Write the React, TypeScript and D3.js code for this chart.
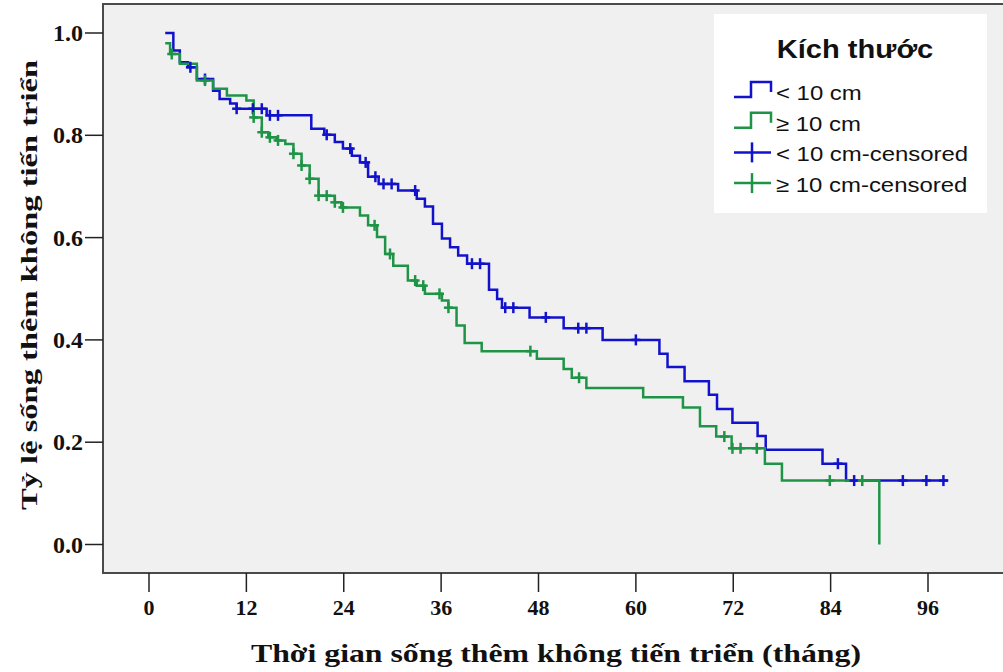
import React from "react";
import * as d3 from "d3";

// ---- data ----
const xTicks = [0, 12, 24, 36, 48, 60, 72, 84, 96];
const yTicks = [0.0, 0.2, 0.4, 0.6, 0.8, 1.0];

const groupNames = ["< 10 cm", "≥ 10 cm"];

// step points: [time (months), survival after the step]
const blueSteps: [number, number][] = [
  [2.0, 1.0], [3.0, 0.966], [3.8, 0.943], [4.8, 0.933], [5.9, 0.91], [7.9, 0.887],
  [8.7, 0.871], [10.0, 0.862], [10.8, 0.852], [14.5, 0.839], [20.0, 0.813],
  [21.6, 0.801], [22.9, 0.787], [23.9, 0.774], [25.0, 0.76], [26.0, 0.747],
  [27.0, 0.719], [28.3, 0.705], [30.7, 0.692], [33.0, 0.676], [34.0, 0.661],
  [35.0, 0.627], [36.1, 0.598], [37.1, 0.581], [38.1, 0.565], [39.2, 0.549],
  [41.9, 0.498], [42.9, 0.48], [43.5, 0.463], [46.9, 0.444], [51.1, 0.423],
  [55.9, 0.4], [62.9, 0.373], [63.9, 0.347], [66.0, 0.319], [69.0, 0.293],
  [70.0, 0.265], [71.9, 0.238], [75.0, 0.212], [76.0, 0.185], [83.0, 0.158],
  [85.9, 0.125], [98.5, 0.125],
];
const blueCensored = [
  5.1, 6.9, 10.8, 12.8, 13.9, 14.9, 15.9, 21.9, 24.8, 26.7, 27.9, 28.9, 29.9,
  32.8, 39.8, 40.8, 43.9, 44.9, 48.9, 52.9, 53.9, 60.0, 84.9, 86.9, 92.9, 95.8, 97.9,
];

const greenSteps: [number, number][] = [
  [2.0, 0.98], [2.6, 0.959], [3.8, 0.94], [5.9, 0.907], [7.9, 0.891], [9.6, 0.878],
  [12.0, 0.868], [12.9, 0.835], [13.9, 0.806], [14.7, 0.796], [15.7, 0.79],
  [16.8, 0.783], [17.8, 0.764], [18.8, 0.741], [19.8, 0.715], [20.9, 0.682],
  [22.9, 0.669], [23.7, 0.659], [26.0, 0.643], [27.0, 0.624], [28.1, 0.601],
  [29.1, 0.568], [30.1, 0.545], [31.9, 0.516], [33.0, 0.506], [34.0, 0.49],
  [36.1, 0.477], [36.9, 0.463], [37.9, 0.428], [38.9, 0.394], [41.0, 0.378],
  [47.8, 0.363], [51.1, 0.343], [52.1, 0.326], [53.9, 0.306], [60.9, 0.288],
  [65.8, 0.268], [67.9, 0.231], [69.9, 0.211], [71.8, 0.188], [75.9, 0.158],
  [78.0, 0.125], [90.0, 0.0],
];
const greenCensored = [
  2.8, 6.9, 12.9, 13.9, 14.9, 15.9, 17.8, 18.8, 19.8, 20.9, 21.9, 22.9, 23.9,
  27.8, 29.7, 32.8, 33.8, 35.8, 36.9, 47.0, 53.0, 70.9, 71.9, 72.9, 74.9, 83.9, 87.9,
];

const BLUE = "#1212cc";
const GREEN = "#1f9447";
const SERIF = "'Liberation Serif', 'Times New Roman', serif";
const SANS = "'Liberation Sans', Arial, sans-serif";

const W = 1003;
const H = 672;
const plot = { left: 103, top: 4, right: 1004, bottom: 573 };

const x = d3.scaleLinear().domain([0, 96]).range([149, 928]);
const y = d3.scaleLinear().domain([0, 1]).range([544.5, 33]);

const stepLine = d3
  .line<[number, number]>()
  .x((d) => x(d[0]))
  .y((d) => y(d[1]))
  .curve(d3.curveStepAfter);

function survAt(steps: [number, number][], t: number) {
  let s = steps[0][1];
  for (const [tt, ss] of steps) {
    if (tt <= t) s = ss;
    else break;
  }
  return s;
}

function Censors({ steps, times, color }: { steps: [number, number][]; times: number[]; color: string }) {
  return (
    <g stroke={color} strokeWidth={2.5}>
      {times.map((t, i) => {
        const cx = x(t);
        const cy = y(survAt(steps, t));
        return (
          <g key={i}>
            <line x1={cx} x2={cx} y1={cy - 5.5} y2={cy + 5.5} />
            <line x1={cx - 4.5} x2={cx + 4.5} y1={cy} y2={cy} />
          </g>
        );
      })}
    </g>
  );
}

export default function App() {
  const legendRows = [
    { label: groupNames[0], color: BLUE, type: "step" },
    { label: groupNames[1], color: GREEN, type: "step" },
    { label: groupNames[0] + "-censored", color: BLUE, type: "cens" },
    { label: groupNames[1] + "-censored", color: GREEN, type: "cens" },
  ];
  return (
    <svg
      width={W}
      height={H}
      style={{ position: "absolute", left: 0, top: 0, background: "#ffffff" }}
    >
      <rect
        x={plot.left}
        y={plot.top}
        width={plot.right - plot.left}
        height={plot.bottom - plot.top}
        fill="#f0f0f0"
        stroke="#4a4a4a"
        strokeWidth={2}
      />
      {/* y axis ticks */}
      <g>
        {yTicks.map((v) => (
          <g key={v}>
            <line x1={85} x2={plot.left} y1={y(v)} y2={y(v)} stroke="#222" strokeWidth={1.5} />
            <text
              x={83}
              y={y(v)}
              dy="0.34em"
              textAnchor="end"
              fontFamily={SERIF}
              fontWeight="bold"
              fontSize={24}
              fill="#111"
            >
              {v.toFixed(1)}
            </text>
          </g>
        ))}
      </g>
      {/* x axis ticks */}
      <g>
        {xTicks.map((v) => (
          <g key={v}>
            <line x1={x(v)} x2={x(v)} y1={plot.bottom} y2={592} stroke="#222" strokeWidth={1.5} />
            <text
              x={x(v)}
              y={615}
              textAnchor="middle"
              fontFamily={SERIF}
              fontWeight="bold"
              fontSize={22}
              fill="#111"
            >
              {v}
            </text>
          </g>
        ))}
      </g>
      {/* axis titles */}
      <text
        x={556}
        y={662}
        textAnchor="middle"
        fontFamily={SERIF}
        fontWeight="bold"
        fontSize={25}
        fill="#111"
        textLength={610}
        lengthAdjust="spacingAndGlyphs"
      >
        Thời gian sống thêm không tiến triển (tháng)
      </text>
      <text
        transform={`translate(37, 285) rotate(-90)`}
        textAnchor="middle"
        fontFamily={SERIF}
        fontWeight="bold"
        fontSize={24}
        fill="#111"
        textLength={450}
        lengthAdjust="spacingAndGlyphs"
      >
        Tỷ lệ sống thêm không tiến triển
      </text>
      {/* curves */}
      <path d={stepLine(blueSteps) || ""} fill="none" stroke={BLUE} strokeWidth={2.5} />
      <path d={stepLine(greenSteps) || ""} fill="none" stroke={GREEN} strokeWidth={2.5} />
      <Censors steps={blueSteps} times={blueCensored} color={BLUE} />
      <Censors steps={greenSteps} times={greenCensored} color={GREEN} />
      {/* legend */}
      <g>
        <rect x={714} y={14} width={273} height={199} fill="#ffffff" />
        <text
          transform="translate(855, 58) scale(1.12, 1)"
          textAnchor="middle"
          fontFamily={SANS}
          fontWeight="bold"
          fontSize={26}
          fill="#111"
        >
          Kích thước
        </text>
        {legendRows.map((r, i) => {
          const cy = 93 + i * 30.7;
          return (
            <g key={i}>
              {r.type === "step" ? (
                <path
                  d={`M734,${cy + 4} H751 V${cy - 11} H771 V${cy - 1}`}
                  fill="none"
                  stroke={r.color}
                  strokeWidth={2.5}
                />
              ) : (
                <g stroke={r.color} strokeWidth={2.5}>
                  <line x1={734} x2={771} y1={cy - 2} y2={cy - 2} />
                  <line x1={752} x2={752} y1={cy - 12} y2={cy + 8} />
                </g>
              )}
              <text
                transform={`translate(776, ${cy + 7}) scale(1.14, 1)`}
                fontFamily={SANS}
                fontSize={21}
                fill="#111"
              >
                {r.label}
              </text>
            </g>
          );
        })}
      </g>
    </svg>
  );
}
